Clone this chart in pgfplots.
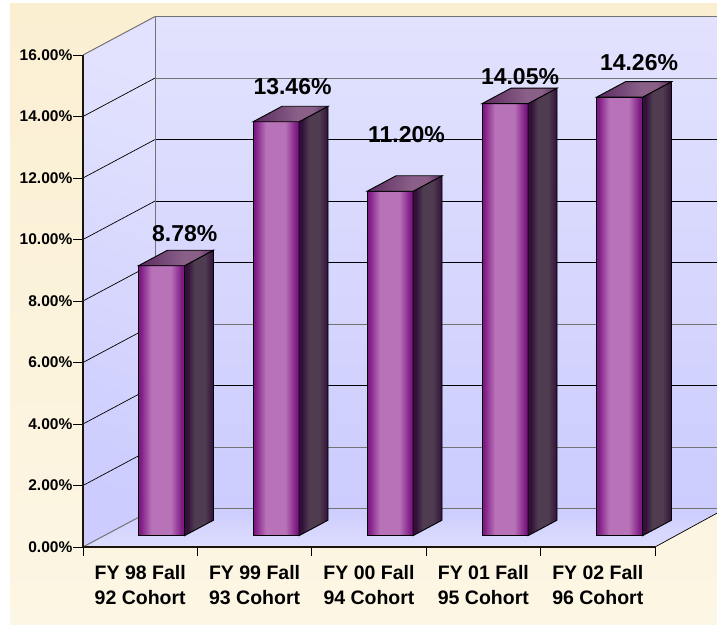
\documentclass[border=0pt]{standalone}
\usepackage{fontspec}
\setmainfont{Liberation Sans}
\usepackage{pgfplots}
\pgfplotsset{compat=1.18}
\definecolor{wallA}{HTML}{E2E2FE}
\definecolor{wallB}{HTML}{CCCCFE}
\definecolor{bgA}{HTML}{FBEFD2}
\definecolor{bgB}{HTML}{FCF6E4}
\definecolor{barA}{HTML}{7E1A84}
\definecolor{barB}{HTML}{B872B8}
\definecolor{sideA}{HTML}{32103A}
\definecolor{sideB}{HTML}{4F3C50}
\definecolor{topA}{HTML}{5A2A60}
\definecolor{topB}{HTML}{8A6088}
\pgfdeclarehorizontalshading{barfront}{100bp}{
  color(0bp)=(barA); color(27bp)=(barA); color(39bp)=(barB); color(60bp)=(barB); color(72bp)=(barA); color(100bp)=(barA)}
\pgfdeclarehorizontalshading{barside}{100bp}{
  color(0bp)=(sideA); color(30bp)=(sideA); color(42bp)=(sideB); color(60bp)=(sideB); color(75bp)=(sideA); color(100bp)=(sideA)}
\pgfdeclarehorizontalshading{bartop}{100bp}{
  color(0bp)=(topA); color(25bp)=(topA); color(55bp)=(topB); color(65bp)=(topB); color(75bp)=(topA); color(100bp)=(topA)}
\pgfplotsset{
  full/.style={at={(0pt,0pt)},anchor=south west,scale only axis,width=717pt,height=625pt,
    xmin=0,xmax=717,axis lines=none,clip=true},
  gridk/.style={draw=black,line width=0.7pt},
  gridg/.style={draw=black!55,line width=1pt},
  wall/.style={draw=none,forget plot},
  front/.style={ybar,bar width=46pt,draw=black,line width=0.9pt,shading=barfront},
  side/.style={draw=black,line width=0.9pt,shading=barside},
  topf/.style={draw=black,line width=0.9pt,shading=bartop},
}
\begin{document}
\begin{tikzpicture}
% background, walls and grid: y in percent on the front plane (0 at pixel 547)
\begin{axis}[full,ymin=-2.537,ymax=17.789]
\addplot[wall,fill=white] coordinates {(0,-2.537)(717,-2.537)(717,17.789)(0,17.789)} -- cycle;
\addplot[wall,top color=bgA,bottom color=bgB] coordinates {(10,-2.537)(717,-2.537)(717,17.69)(10,17.69)} -- cycle;
% left wall
\addplot[wall,shade,shading=axis,top color=wallA,bottom color=wallB,shading angle=-20] coordinates {(83,0)(155,1.25)(155,17.25)(83,16)} -- cycle;
% back wall
\addplot[wall,top color=wallA,bottom color=wallB] coordinates {(155,1.25)(717,1.25)(717,17.25)(155,17.25)} -- cycle;
% floor
\addplot[wall,top color=wallB,bottom color=wallA!80!wallB] coordinates {(83,0)(155,1.25)(717,1.25)(717,1.1)(655,0)} -- cycle;
% grid lines on the left wall
\addplot[gridg] coordinates {(83,0)(155,1.25)};
\addplot[gridk] coordinates {(83,2)(155,3.25)};
\addplot[gridk] coordinates {(83,4)(155,5.25)};
\addplot[gridk] coordinates {(83,6)(155,7.25)};
\addplot[gridk] coordinates {(83,8)(155,9.25)};
\addplot[gridk] coordinates {(83,10)(155,11.25)};
\addplot[gridk] coordinates {(83,12)(155,13.25)};
\addplot[gridk] coordinates {(83,14)(155,15.25)};
\addplot[gridg] coordinates {(83,16)(155,17.25)};
% grid lines on the back wall
\addplot[gridg] coordinates {(155,1.25)(717,1.25)};
\addplot[gridg] coordinates {(155,3.25)(717,3.25)};
\addplot[gridk] coordinates {(155,5.25)(717,5.25)};
\addplot[gridg] coordinates {(155,7.25)(717,7.25)};
\addplot[gridk] coordinates {(155,9.25)(717,9.25)};
\addplot[gridk] coordinates {(155,11.25)(717,11.25)};
\addplot[gridk] coordinates {(155,13.25)(717,13.25)};
\addplot[gridg,line width=0.8pt] coordinates {(155,15.25)(717,15.25)};
\addplot[gridg] coordinates {(155,17.25)(717,17.25)};
\addplot[gridg] coordinates {(155,1.25)(155,17.25)};
\addplot[draw=black,line width=0.7pt] coordinates {(655,0)(717,1.1)};
\end{axis}
% the real axes in the front plane
\begin{axis}[at={(83pt,78pt)},anchor=south west,scale only axis,width=572pt,height=492pt,
  xmin=-0.5,xmax=4.5,ymin=0,ymax=16,axis lines=left,axis line style={-,black!85!brown,line width=1.1pt},
  tick align=outside,major tick length=9.5pt,
  tick style={draw=black,line width=0.8pt},
  ytick={0,2,...,16},
  yticklabel={\pgfmathprintnumber[fixed,fixed zerofill,precision=2,assume math mode=true]{\tick}\%},
  yticklabel style={font=\fontsize{15.5}{16}\selectfont\bfseries,inner sep=0pt,xshift=-1pt},
  xtick={-0.5,0.5,1.5,2.5,3.5,4.5},
  xticklabels={},
  extra x ticks={0,1,2,3,4},
  extra x tick labels={{FY 98 Fall\\92 Cohort},{FY 99 Fall\\93 Cohort},{FY 00 Fall\\94 Cohort},{FY 01 Fall\\95 Cohort},{FY 02 Fall\\96 Cohort}},
  extra x tick style={major tick length=0pt,xticklabel style={font=\fontsize{19.5}{25}\selectfont\bfseries,align=center,yshift=-15pt}},
]
\end{axis}
% bars: y in percent on the plane of the bars (0 at pixel 535.7)
\begin{axis}[full,ymin=-2.904,ymax=17.421]
\addplot[front] coordinates {(161.5,8.78)};
\addplot[side] coordinates {(184.5,0)(213.5,0.504)(213.5,9.284)(184.5,8.78)} -- cycle;
\addplot[topf] coordinates {(138.5,8.78)(184.5,8.78)(213.5,9.284)(167.5,9.284)} -- cycle;
\addplot[front] coordinates {(276,13.46)};
\addplot[side] coordinates {(299,0)(328,0.504)(328,13.964)(299,13.46)} -- cycle;
\addplot[topf] coordinates {(253,13.46)(299,13.46)(328,13.964)(282,13.964)} -- cycle;
\addplot[front] coordinates {(390,11.20)};
\addplot[side] coordinates {(413,0)(442,0.504)(442,11.704)(413,11.20)} -- cycle;
\addplot[topf] coordinates {(367,11.20)(413,11.20)(442,11.704)(396,11.704)} -- cycle;
\addplot[front] coordinates {(505,14.05)};
\addplot[side] coordinates {(528,0)(557,0.504)(557,14.554)(528,14.05)} -- cycle;
\addplot[topf] coordinates {(482,14.05)(528,14.05)(557,14.554)(511,14.554)} -- cycle;
\addplot[front] coordinates {(619.5,14.26)};
\addplot[side] coordinates {(642.5,0)(671.5,0.504)(671.5,14.764)(642.5,14.26)} -- cycle;
\addplot[topf] coordinates {(596.5,14.26)(642.5,14.26)(671.5,14.764)(625.5,14.764)} -- cycle;
\addplot[draw=none,mark=none,point meta=explicit symbolic,
  nodes near coords,every node near coord/.style={anchor=center,font=\fontsize{23}{24}\selectfont\bfseries,text=black,inner sep=0pt}]
  coordinates {(184.7,9.81)[8.78\%] (292.5,14.62)[13.46\%] (406.5,13.03)[11.20\%] (520,14.92)[14.05\%] (639,15.37)[14.26\%]};
\end{axis}
\end{tikzpicture}
\end{document}
